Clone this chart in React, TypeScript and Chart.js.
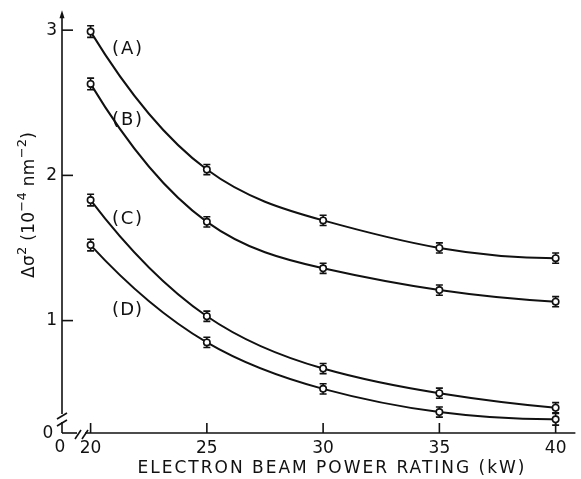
import React, { useEffect, useRef } from 'react';
import { Chart, registerables } from 'chart.js';

Chart.register(...registerables);

// ---- data ----
const powerKW = [20, 25, 30, 35, 40];
const seriesA = [2.99, 2.04, 1.69, 1.5, 1.43];
const seriesB = [2.63, 1.68, 1.36, 1.21, 1.13];
const seriesC = [1.83, 1.03, 0.67, 0.5, 0.4];
const seriesD = [1.52, 0.85, 0.53, 0.37, 0.32];
const errA = [0.04, 0.035, 0.035, 0.035, 0.035];
const errB = [0.04, 0.035, 0.035, 0.035, 0.035];
const errC = [0.04, 0.035, 0.035, 0.035, 0.035];
const errD = [0.04, 0.035, 0.035, 0.035, 0.04];
const seriesNames = ['(A)', '(B)', '(C)', '(D)'];
const labelAtX = [21.57, 21.57, 21.57, 21.57];
const labelAtY = [2.87, 2.38, 1.7, 1.07];
const xTicks = [20, 25, 30, 35, 40];
const yTicks = [1, 2, 3];
const xTitle = 'ELECTRON BEAM POWER RATING (kW)';
// y title pieces: [text, superscript?]
const yTitleParts: [string, boolean][] = [
  ['Δσ', false],
  ['2', true],
  [' (10', false],
  ['−4', true],
  [' nm', false],
  ['−2', true],
  [')', false],
];

const X_MIN = 18.77;
const X_MAX = 40.85;
const Y_MIN = 0.226;
const Y_MAX = 3.103;

const FONT = '"DejaVu Sans", "Liberation Sans", sans-serif';
const INK = '#111';

const allSeries = [seriesA, seriesB, seriesC, seriesD];
const allErr = [errA, errB, errC, errD];

function drawSpaced(ctx: CanvasRenderingContext2D, text: string, cx: number, cy: number, target: number) {
  ctx.save();
  const c: any = ctx;
  c.letterSpacing = '0px';
  const w = ctx.measureText(text).width;
  const n = Array.from(text).length;
  const sp = n > 1 ? Math.max(0, (target - w) / (n - 1)) : 0;
  c.letterSpacing = sp + 'px';
  ctx.textAlign = 'left';
  ctx.textBaseline = 'middle';
  ctx.fillText(text, cx - (w + sp * (n - 1)) / 2, cy);
  ctx.restore();
}

function drawRich(ctx: CanvasRenderingContext2D, parts: [string, boolean][], cx: number, cy: number, target: number) {
  const big = `17px ${FONT}`;
  const small = `13px ${FONT}`;
  const c: any = ctx;
  ctx.save();
  c.letterSpacing = '0px';
  let w = 0;
  let n = 0;
  parts.forEach(([t, sup]) => {
    ctx.font = sup ? small : big;
    w += ctx.measureText(t).width;
    n += Array.from(t).length;
  });
  const sp = Math.max(0, (target - w) / (n - 1));
  let x = cx - (w + sp * (n - 1)) / 2;
  ctx.textAlign = 'left';
  ctx.textBaseline = 'alphabetic';
  const base = cy + 6;
  parts.forEach(([t, sup]) => {
    ctx.font = sup ? small : big;
    Array.from(t).forEach((ch) => {
      ctx.fillText(ch, x, sup ? base - 8 : base);
      x += ctx.measureText(ch).width + sp;
    });
  });
  ctx.restore();
}

// Replace Chart.js's bezier control points with those of a C2 cubic spline
// (parabolic run-out ends), computed from the library's own point pixels.
const splineSmooth = {
  id: 'splineSmooth',
  beforeDatasetDraw(chart: any, args: any) {
    const meta = args.meta;
    const line = meta.dataset;
    if (!line) return;
    line.updateControlPoints(chart.chartArea, 'x');
    const pts = meta.data;
    const n = pts.length;
    if (n < 3) return;
    const xs = pts.map((p: any) => p.x);
    const ys = pts.map((p: any) => p.y);
    const h: number[] = [];
    for (let i = 0; i < n - 1; i++) h.push(xs[i + 1] - xs[i]);
    // tridiagonal system for M1..M(n-2)
    const m = n - 2;
    const a: number[] = [], b: number[] = [], c: number[] = [], d: number[] = [];
    for (let k = 0; k < m; k++) {
      const i = k + 1;
      a.push(h[i - 1]);
      b.push(2 * (h[i - 1] + h[i]));
      c.push(h[i]);
      d.push(6 * ((ys[i + 1] - ys[i]) / h[i] - (ys[i] - ys[i - 1]) / h[i - 1]));
    }
    b[0] += a[0];
    a[0] = 0;
    b[m - 1] += c[m - 1];
    c[m - 1] = 0;
    for (let k = 1; k < m; k++) {
      const w = a[k] / b[k - 1];
      b[k] -= w * c[k - 1];
      d[k] -= w * d[k - 1];
    }
    const M: number[] = new Array(n).fill(0);
    M[m] = d[m - 1] / b[m - 1];
    for (let k = m - 2; k >= 0; k--) M[k + 1] = (d[k] - c[k] * M[k + 2]) / b[k];
    M[0] = M[1];
    M[n - 1] = M[n - 2];
    const slope: number[] = [];
    for (let i = 0; i < n - 1; i++) slope.push((ys[i + 1] - ys[i]) / h[i] - (h[i] * (2 * M[i] + M[i + 1])) / 6);
    slope.push((ys[n - 1] - ys[n - 2]) / h[n - 2] + (h[n - 2] * (M[n - 2] + 2 * M[n - 1])) / 6);
    for (let i = 0; i < n - 1; i++) {
      pts[i].cp2x = xs[i] + h[i] / 3;
      pts[i].cp2y = ys[i] + (slope[i] * h[i]) / 3;
      pts[i + 1].cp1x = xs[i + 1] - h[i] / 3;
      pts[i + 1].cp1y = ys[i + 1] - (slope[i + 1] * h[i]) / 3;
    }
    line._path = undefined;
  },
};

const decor = {
  id: 'decor',
  beforeDatasetsDraw(chart: any) {
    const ctx: CanvasRenderingContext2D = chart.ctx;
    const xs = chart.scales.x;
    const ys = chart.scales.y;
    ctx.save();
    ctx.strokeStyle = INK;
    ctx.lineWidth = 1.6;
    allSeries.forEach((s, i) => {
      s.forEach((v, j) => {
        const x = xs.getPixelForValue(powerKW[j]);
        const t = ys.getPixelForValue(v + allErr[i][j]);
        const b = ys.getPixelForValue(v - allErr[i][j]);
        ctx.beginPath();
        ctx.moveTo(x, t);
        ctx.lineTo(x, b);
        ctx.moveTo(x - 3.5, t);
        ctx.lineTo(x + 3.5, t);
        ctx.moveTo(x - 3.5, b);
        ctx.lineTo(x + 3.5, b);
        ctx.stroke();
      });
    });
    ctx.restore();
  },
  afterDraw(chart: any) {
    const ctx: CanvasRenderingContext2D = chart.ctx;
    const xs = chart.scales.x;
    const ys = chart.scales.y;
    const { left: L, right: R, top: T, bottom: B } = chart.chartArea;
    ctx.save();
    ctx.strokeStyle = INK;
    ctx.fillStyle = INK;
    ctx.lineWidth = 1.6;
    ctx.lineCap = 'butt';
    const seg = (a: number, b: number, c: number, d: number) => {
      ctx.beginPath();
      ctx.moveTo(a, b);
      ctx.lineTo(c, d);
      ctx.stroke();
    };
    // y axis (with break)
    seg(L, T, L, B - 19);
    seg(L - 5, B - 14, L + 5, B - 20);
    seg(L - 5, B - 7, L + 5, B - 13);
    seg(L, B - 11, L, B);
    // arrow
    ctx.beginPath();
    ctx.moveTo(L, T - 5);
    ctx.lineTo(L - 2.5, T + 3);
    ctx.lineTo(L + 2.5, T + 3);
    ctx.closePath();
    ctx.fill();
    // x axis (with break)
    seg(L, B, L + 15, B);
    seg(L + 13, B + 6, L + 19, B - 3);
    seg(L + 20, B + 6, L + 26, B - 3);
    seg(L + 23, B, R, B);
    // ticks
    xTicks.forEach((v) => {
      const x = xs.getPixelForValue(v);
      seg(x, B, x, B - 10);
    });
    yTicks.forEach((v) => {
      const y = ys.getPixelForValue(v);
      seg(L, y, L + 11, y);
    });
    // zero labels at the breaks
    ctx.font = `17px ${FONT}`;
    ctx.textAlign = 'center';
    ctx.textBaseline = 'middle';
    ctx.fillText('0', L - 14, B + 1);
    ctx.fillText('0', L - 2, B + 15);
    // series labels
    ctx.font = `18px ${FONT}`;
    seriesNames.forEach((name, i) => {
      drawSpaced(ctx, name, xs.getPixelForValue(labelAtX[i]), ys.getPixelForValue(labelAtY[i]), 30);
    });
    // axis titles
    ctx.font = `17px ${FONT}`;
    drawSpaced(ctx, xTitle, 331, 469, 387);
    ctx.save();
    ctx.translate(28, 205);
    ctx.rotate(-Math.PI / 2);
    drawRich(ctx, yTitleParts, 0, 0, 146);
    ctx.restore();
    ctx.restore();
  },
};

export default function App() {
  const ref = useRef<HTMLCanvasElement>(null);
  useEffect(() => {
    const canvas = ref.current!;
    const datasets = allSeries.map((s, i) => ({
      label: seriesNames[i],
      data: powerKW.map((x, j) => ({ x, y: s[j] })),
      borderColor: INK,
      borderWidth: 2,
      tension: 0.4,
      pointRadius: 3.2,
      pointBackgroundColor: '#fff',
      pointBorderColor: INK,
      pointBorderWidth: 1.6,
      fill: false,
    }));
    const chart = new Chart(canvas, {
      type: 'line',
      data: { datasets },
      options: {
        animation: false,
        responsive: false,
        devicePixelRatio: 1,
        layout: { padding: { top: 13, left: 0, right: 0, bottom: 0 } },
        plugins: {
          legend: { display: false },
          tooltip: { enabled: false },
          title: { display: false },
        },
        scales: {
          x: {
            type: 'linear',
            min: X_MIN,
            max: X_MAX,
            grid: { display: false, drawTicks: false },
            border: { display: false },
            afterBuildTicks: (s: any) => {
              s.ticks = xTicks.map((v) => ({ value: v }));
            },
            afterFit: (s: any) => {
              s.height = 46;
            },
            ticks: {
              color: INK,
              font: { family: FONT, size: 17 },
              padding: 5,
              maxRotation: 0,
              autoSkip: false,
            },
          },
          y: {
            type: 'linear',
            min: Y_MIN,
            max: Y_MAX,
            grid: { display: false, drawTicks: false },
            border: { display: false },
            afterBuildTicks: (s: any) => {
              s.ticks = yTicks.map((v) => ({ value: v }));
            },
            afterFit: (s: any) => {
              s.width = 62;
            },
            ticks: {
              color: INK,
              font: { family: FONT, size: 17 },
              padding: 5,
              autoSkip: false,
            },
          },
        },
      },
      plugins: [splineSmooth, decor],
    });
    return () => chart.destroy();
  }, []);
  return (
    <div style={{ position: 'absolute', left: 0, top: 0, width: 581, height: 479, background: '#fff' }}>
      <canvas ref={ref} width={581} height={479} style={{ display: 'block' }} />
    </div>
  );
}
